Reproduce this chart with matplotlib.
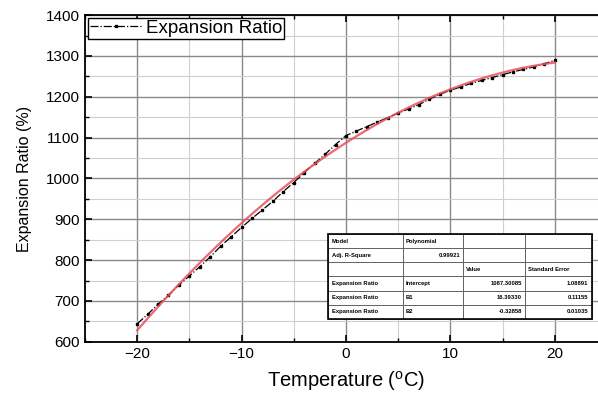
import numpy as np
import matplotlib
matplotlib.use("Agg")
import matplotlib.pyplot as plt
from matplotlib.ticker import MultipleLocator

plt.rcParams['font.family'] = ['Liberation Sans', 'DejaVu Sans']
plt.rcParams['mathtext.fontset'] = 'custom'
plt.rcParams['mathtext.rm'] = 'Liberation Sans'
plt.rcParams['mathtext.it'] = 'Liberation Sans'

temperature = [-20, -19, -18, -17, -16, -15, -14, -13, -12, -11, -10,
               -9, -8, -7, -6, -5, -4, -3, -2, -1, 0,
               1, 2, 3, 4, 5, 6, 7, 8, 9, 10,
               11, 12, 13, 14, 15, 16, 17, 18, 19, 20]
expansion_ratio = [644, 667, 692, 714, 739, 761, 784, 808, 834, 857, 880,
                   902, 923, 944, 968, 990, 1014, 1037, 1059, 1083, 1105,
                   1116, 1127, 1138, 1149, 1160, 1170, 1181, 1194, 1206, 1216,
                   1224, 1233, 1240, 1247, 1254, 1261, 1267, 1273, 1281, 1289]

# Polynomial fit parameters (as shown in the table)
fit_intercept = 1087.30085
fit_b1 = 16.39330
fit_b2 = -0.32858
fit_se = [1.08891, 0.11155, 0.01035]
adj_r2 = 0.99921

fig = plt.figure(figsize=(5.98, 3.97), dpi=100)
ax = fig.add_axes([0.142, 0.139, 0.873, 0.823])

xfit = np.linspace(min(temperature), max(temperature), 200)
yfit = fit_intercept + fit_b1 * xfit + fit_b2 * xfit ** 2

ax.plot(temperature, expansion_ratio, color='black', linestyle='-.', linewidth=0.9,
        marker='s', markersize=2.0, label='Expansion Ratio', zorder=3)
ax.plot(xfit, yfit, color='#e8505a', linewidth=1.6, alpha=0.85, zorder=4)

ax.set_xlim(-25, 25)
ax.set_ylim(600, 1400)
ax.xaxis.set_major_locator(MultipleLocator(10))
ax.xaxis.set_minor_locator(MultipleLocator(5))
ax.yaxis.set_major_locator(MultipleLocator(100))
ax.yaxis.set_minor_locator(MultipleLocator(50))
ax.grid(which='major', color='#8a8a8a', linewidth=1.0)
ax.grid(which='minor', color='#d0d0d0', linewidth=0.8)
ax.set_axisbelow(True)
ax.tick_params(which='both', direction='in', top=True, right=True, labelsize=11)
ax.tick_params(which='major', length=5, width=1.2)
ax.tick_params(which='minor', length=3, width=1.0)
for s in ax.spines.values():
    s.set_linewidth(1.3)

ax.set_xlabel(r'Temperature ($^{\mathrm{o}}$C)', fontsize=14.5, labelpad=6)
ax.set_ylabel('Expansion Ratio (%)', fontsize=11.5, labelpad=10)

leg = ax.legend(loc='upper left', fontsize=13.5, frameon=True, fancybox=False,
                edgecolor='black', borderpad=0.1, borderaxespad=0.15,
                handlelength=2.8, handletextpad=0.2, framealpha=1)
leg.get_frame().set_linewidth(1.0)

# Fit table
cells = [["Model", "Polynomial", "", ""],
         ["Adj. R-Square", f"{adj_r2:.5f}", "", ""],
         ["", "", "Value", "Standard Error"],
         ["Expansion Ratio", "Intercept", f"{fit_intercept:.5f}", f"{fit_se[0]:.5f}"],
         ["Expansion Ratio", "B1", f"{fit_b1:.5f}", f"{fit_se[1]:.5f}"],
         ["Expansion Ratio", "B2", f"{fit_b2:.5f}", f"{fit_se[2]:.5f}"]]
tbl = ax.table(cellText=cells, colWidths=[75, 60, 62, 67], cellLoc='left',
               bbox=[0.466, 0.07, 0.505, 0.26], zorder=6)
tbl.auto_set_font_size(False)
for (r, c), cell in tbl.get_celld().items():
    cell.set_linewidth(0.6)
    cell.set_edgecolor('#555555')
    cell.set_facecolor('white')
    cell.get_text().set_fontsize(4.2)
    cell.get_text().set_fontweight('bold')
    cell.PAD = 0.05
    if (c in (2, 3) and r >= 3) or (r == 1 and c == 1):
        cell.get_text().set_ha('right')
        cell._loc = 'right'
outer = plt.Rectangle((0.466, 0.07), 0.505, 0.26, transform=ax.transAxes,
                      fill=False, edgecolor='black', linewidth=1.2, zorder=7)
ax.add_patch(outer)

fig.savefig('out.png', dpi=100)
